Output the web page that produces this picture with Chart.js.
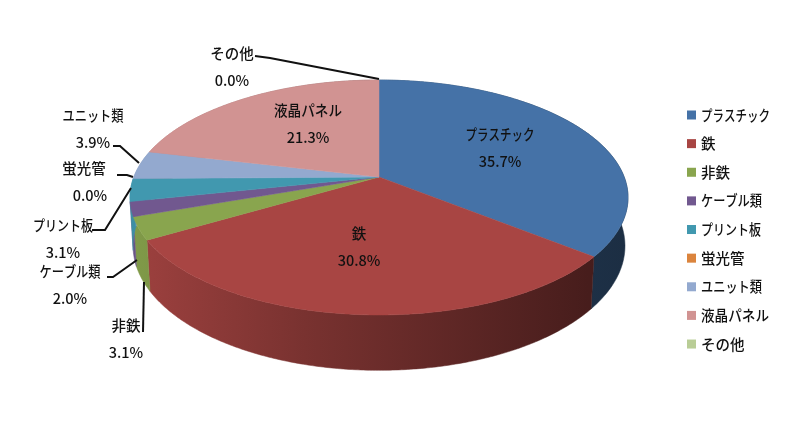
<!DOCTYPE html>
<html lang="ja">
<head>
<meta charset="utf-8">
<title>Pie</title>
<style>
  html, body { margin: 0; padding: 0; background: #fff; }
  canvas { display: block; }
</style>
<script src="https://cdn.jsdelivr.net/npm/chart.js@4"></script>
</head>
<body>
<canvas id="myCanvas" width="806" height="425"></canvas>
<script>
'use strict';

// data
const categories = ['プラスチック', '鉄', '非鉄', 'ケーブル類', 'プリント板', '蛍光管', 'ユニット類', '液晶パネル', 'その他'];
const shares = [35.7, 30.8, 3.1, 2.0, 3.1, 0.0, 3.9, 21.3, 0.0];
const shareLabels = ['35.7%', '30.8%', '3.1%', '2.0%', '3.1%', '0.0%', '3.9%', '21.3%', '0.0%'];
const colors = ['#4572A7', '#A84543', '#89A54E', '#71588F', '#4198AF', '#DB843D', '#93A9CF', '#D19392', '#B9CD96'];

// label centres (name line), same order as categories
const labelSpots = [[500, 134], [359, 233], [126, 325], [70, 271], [63, 225], [84, 168], [93, 115], [308, 110], [232, 53]];
// share line sits a bit off for some labels
const shareSpots = [[500, 161], [359, 260], [126, 352], [70, 298], [63, 252], [90, 195], [93, 142], [308, 137], [232, 80]];
// kana in the original font is narrower than in Noto, so names get squeezed to these widths
const nameWidths = [69, 15, 30, 61, 60, 44, 61, 68, 44];
const leaders = [
  [[143, 332], [144, 282]],
  [[107, 277], [113, 277], [137, 260]],
  [[92, 230], [105, 230], [131, 188]],
  [[117, 175], [127, 175], [133, 177]],
  [[113, 146], [120, 146], [139, 163]],
  [[255, 56], [270, 58], [379, 79]]
];

// pie geometry, perspective view from above
const apexX = 379;
const apexY = 177;
const radiusX = 245.2;
const radiusY = 113.9;
const tilt = 0.1745;
const wallDrop = 48;
const wallShrink = 0.012;
const font = '500 14.5px "Noto Sans CJK JP"';

function topPoint(angle) {
  let x = Math.cos(angle);
  let y = Math.sin(angle);
  let w = 1 - tilt * y;
  return [apexX + radiusX * x / w, apexY + radiusY * y / w];
}

function bottomPoint(angle) {
  let x = Math.cos(angle);
  let y = Math.sin(angle);
  let w = 1 - tilt * y + wallShrink;
  return [apexX + radiusX * x / w, apexY + (radiusY * y + wallDrop) / w];
}

function shade(hex, f) {
  let n = parseInt(hex.slice(1), 16);
  let r = Math.round((n >> 16 & 255) * f);
  let g = Math.round((n >> 8 & 255) * f);
  let b = Math.round((n & 255) * f);
  return `rgb(${r}, ${g}, ${b})`;
}

function arcPoints(start, end, fn) {
  let pts = [];
  let steps = Math.max(2, Math.ceil((end - start) / 0.01));
  for (let i = 0; i <= steps; i++) {
    pts.push(fn(start + (end - start) * i / steps));
  }
  return pts;
}

function tracePath(ctx, pts) {
  ctx.beginPath();
  pts.forEach((p, i) => {
    if (i === 0) {
      ctx.moveTo(p[0], p[1]);
    } else {
      ctx.lineTo(p[0], p[1]);
    }
  });
  ctx.closePath();
}

const pie3d = {
  id: 'pie3d',
  beforeDatasetsDraw(chart) {
    const ctx = chart.ctx;
    const arcs = chart.getDatasetMeta(0).data;

    // side walls first, the top face covers whatever is behind
    arcs.forEach((arc, i) => {
      if (arc.endAngle - arc.startAngle <= 0) {
        return;
      }
      let top = arcPoints(arc.startAngle, arc.endAngle, topPoint);
      let bottom = arcPoints(arc.startAngle, arc.endAngle, bottomPoint).reverse();
      let grad = ctx.createLinearGradient(130, 0, 628, 0);
      grad.addColorStop(0, shade(colors[i], 0.94));
      grad.addColorStop(0.35, shade(colors[i], 0.72));
      grad.addColorStop(0.92, shade(colors[i], 0.42));
      grad.addColorStop(1, shade(colors[i], 0.4));
      tracePath(ctx, top.concat(bottom));
      ctx.fillStyle = grad;
      ctx.strokeStyle = grad;
      ctx.lineWidth = 0.5;
      ctx.fill();
      ctx.stroke();
    });

    // top face
    arcs.forEach((arc, i) => {
      if (arc.endAngle - arc.startAngle <= 0) {
        return;
      }
      tracePath(ctx, [[apexX, apexY]].concat(arcPoints(arc.startAngle, arc.endAngle, topPoint)));
      ctx.fillStyle = colors[i];
      ctx.strokeStyle = colors[i];
      ctx.lineWidth = 0.5;
      ctx.fill();
      ctx.stroke();
    });

    return false;
  },
  afterDraw(chart) {
    const ctx = chart.ctx;
    ctx.save();

    // leader lines
    ctx.strokeStyle = '#111';
    ctx.lineWidth = 2;
    leaders.forEach((line) => {
      ctx.beginPath();
      line.forEach((p, i) => {
        if (i === 0) {
          ctx.moveTo(p[0], p[1]);
        } else {
          ctx.lineTo(p[0], p[1]);
        }
      });
      ctx.stroke();
    });

    // data labels
    ctx.font = font;
    ctx.fillStyle = '#111';
    ctx.textBaseline = 'middle';
    ctx.textAlign = 'center';
    categories.forEach((name, i) => {
      ctx.fillText(name, labelSpots[i][0], labelSpots[i][1], nameWidths[i]);
      ctx.fillText(shareLabels[i], shareSpots[i][0], shareSpots[i][1]);
    });

    // legend
    ctx.textAlign = 'left';
    categories.forEach((name, i) => {
      let y = 115 + i * 28.63;
      ctx.fillStyle = colors[i];
      ctx.fillRect(687, y - 4.5, 9, 9);
      ctx.fillStyle = '#111';
      ctx.fillText(name, 701, y, nameWidths[i]);
    });

    ctx.restore();
  }
};

const data = {
  labels: categories,
  datasets: [{
    data: shares,
    backgroundColor: colors,
    borderWidth: 0
  }]
};

const config = {
  type: 'pie',
  data: data,
  plugins: [pie3d],
  options: {
    responsive: false,
    animation: false,
    plugins: {
      legend: { display: false },
      tooltip: { enabled: false }
    }
  }
};

new Chart(document.getElementById('myCanvas'), config);
</script>
</body>
</html>
